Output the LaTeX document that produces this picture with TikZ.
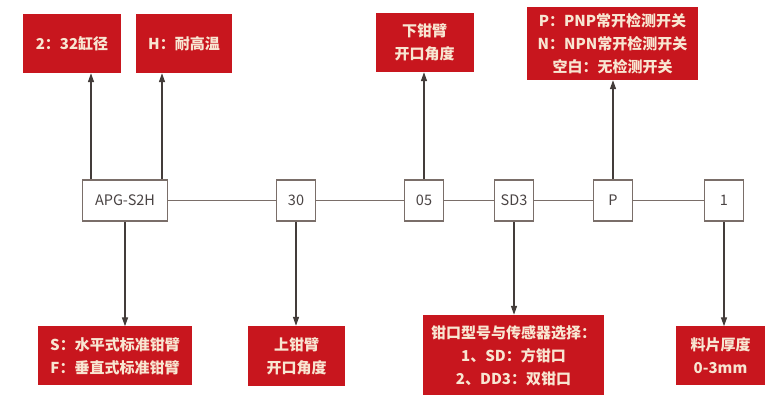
\documentclass[tikz,border=0pt]{standalone}
\usepackage{fontspec}
\setmainfont{Noto Sans CJK SC}
\usetikzlibrary{arrows.meta}
\definecolor{boxred}{HTML}{C8161E}
\definecolor{boxtext}{HTML}{F8E6D2}
\definecolor{linegray}{HTML}{7A6E69}
\definecolor{codegray}{HTML}{4A4444}
\tikzset{code/.style={draw=linegray, line width=1.6pt, fill=white, text=codegray, minimum width=39pt, minimum height=41pt, inner sep=2pt, font=\fontsize{14.5}{16}\selectfont}}
\tikzset{note/.style={fill=boxred, text=boxtext, align=center, inner sep=2pt, font=\fontsize{15}{23}\selectfont\bfseries}}
\tikzset{link/.style={draw=linegray, line width=1.1pt}}
\tikzset{arrow/.style={draw=linegray!55!black, line width=1.4pt, -{Triangle[length=9pt,width=6pt]}}}
\def \rowy {200.5}

\begin{document}
\begin{tikzpicture}[x=1pt, y=-1pt]

    \useasboundingbox (0,0) rectangle (772,395);

    % model code row
    \node[code, minimum width=85pt] (apg) at (125,\rowy) {APG-S2H};
    \node[code] (c30) at (296,\rowy) {30};
    \node[code] (c05) at (424,\rowy) {05};
    \node[code] (sd3) at (514,\rowy) {SD3};
    \node[code] (pp) at (613,\rowy) {P};
    \node[code] (c1) at (724,\rowy) {1};

    \foreach \a/\b in {apg/c30, c30/c05, c05/sd3, sd3/pp, pp/c1} {
    \draw[link] (\a) -- (\b);
    }

    % notes above
    \node[note, minimum width=98pt, minimum height=59pt] (bore) at (72,43.5) {2：32缸径};
    \node[note, minimum width=96pt, minimum height=59pt] (heat) at (184,43.5) {H：耐高温};
    \node[note, minimum width=98pt, minimum height=59pt] (lower) at (424.5,42.5) {下钳臂\\开口角度};
    \node[note, minimum width=171pt, minimum height=73pt] (sensor) at (612.5,43.5) {P：PNP常开检测开关\\N：NPN常开检测开关\\空白：无检测开关};

    % notes below
    \node[note, minimum width=154pt, minimum height=59pt] (mount) at (115,356) {S：水平式标准钳臂\\F：垂直式标准钳臂};
    \node[note, minimum width=97pt, minimum height=60pt] (upper) at (296.5,356) {上钳臂\\开口角度};
    \node[note, minimum width=181pt, minimum height=82pt] (jaw) at (513.5,356) {钳口型号与传感器选择：\\1、SD：方钳口\\2、DD3：双钳口};
    \node[note, minimum width=89pt, minimum height=59pt] (thick) at (720.5,356) {料片厚度\\0-3mm};

    \coordinate (boreup) at ([xshift=-34pt]apg.north);
    \coordinate (heatup) at ([xshift=37pt]apg.north);
    \draw[arrow] (boreup) -- (boreup |- bore.south);
    \draw[arrow] (heatup) -- (heatup |- heat.south);
    \draw[arrow] (c05.north) -- (c05.north |- lower.south);
    \draw[arrow] (pp.north) -- (pp.north |- sensor.south);

    \draw[arrow] (apg.south) -- (apg.south |- mount.north);
    \draw[arrow] (c30.south) -- (c30.south |- upper.north);
    \draw[arrow] (sd3.south) -- (sd3.south |- jaw.north);
    \draw[arrow] (c1.south) -- (c1.south |- thick.north);

\end{tikzpicture}
\end{document}
